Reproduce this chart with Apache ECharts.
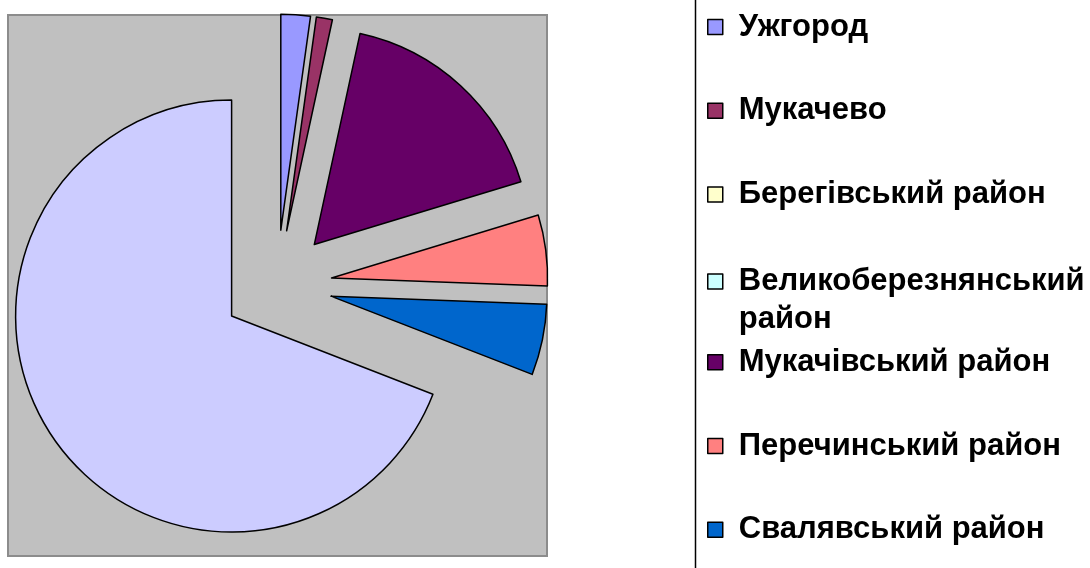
<!DOCTYPE html>
<html>
<head>
<meta charset="utf-8">
<script src="https://cdn.jsdelivr.net/npm/echarts@6/dist/echarts.min.js"></script>
<style>
html, body { margin: 0; padding: 0; background: #fff; }
#chart { width: 1090px; height: 568px; }
</style>
</head>
<body>
<div id="chart"></div>
<script>
// назви міст і районів (порядок як у легенді)
var names = ["Ужгород", "Мукачево", "Берегівський район", "Великоберезнянський район",
  "Мукачівський район", "Перечинський район", "Свалявський район", "Ужгородський район"];
// частка, %
var shares = [2.2, 1.2, 0, 0, 16.9, 5.3, 5.3, 69.1];
var colors = ["#9999FF", "#993366", "#FFFFCC", "#CCFFFF", "#660066", "#FF8080", "#0066CC", "#CCCCFF"];
// у легенді видно лише перші сім
var legendCount = 7;

var chart = echarts.init(document.getElementById("chart"));

var fontSize = 31;
var lineH = 38;
var step = 83.8;

// одна легенда на кожен пункт, бо довга назва переноситься
var legends = [];
for (var i = 0; i < legendCount; i++) {
  var wrap = names[i].length > 20;
  var cy = 27 + i * step;
  legends.push({
    data: [names[i]],
    left: 707,
    top: wrap ? cy - lineH * 1.5 + 3 : cy - lineH / 2,
    padding: 0,
    orient: "vertical",
    selectedMode: false,
    itemWidth: 15,
    itemHeight: 15,
    icon: "rect",
    itemStyle: { borderColor: "#000", borderWidth: 1.5 },
    formatter: function (name) {
      // порожній перший рядок, щоб перший рядок назви стояв біля квадратика
      return name.length > 20 ? "\n" + name.replace(" ", "\n") : name;
    },
    textStyle: {
      fontFamily: "Liberation Sans, Arial, sans-serif",
      fontWeight: "bold",
      fontSize: fontSize,
      lineHeight: lineH,
      color: "#000",
      padding: [0, 0, 0, 11]
    }
  });
}

chart.setOption({
  animation: false,
  backgroundColor: "#fff",
  graphic: [
    {
      type: "rect",
      z: 0,
      shape: { x: 8, y: 15, width: 539, height: 541 },
      style: { fill: "#C0C0C0", stroke: "#8C8C8C", lineWidth: 2 }
    },
    {
      type: "line",
      z: 0,
      shape: { x1: 695.5, y1: 0, x2: 695.5, y2: 568 },
      style: { stroke: "#000", lineWidth: 1.5 }
    }
  ],
  legend: legends,
  series: [
    {
      type: "pie",
      z: 5,
      center: [277, 285],
      radius: 216,
      startAngle: 90,
      clockwise: true,
      selectedMode: "multiple",
      selectedOffset: 55,
      silent: true,
      label: { show: false },
      labelLine: { show: false },
      data: names.map(function (n, i) {
        return {
          name: n,
          value: shares[i],
          selected: true,
          itemStyle: {
            color: colors[i],
            borderColor: "#000",
            borderWidth: shares[i] === 0 ? 0 : 1.5
          }
        };
      })
    }
  ]
});
</script>
</body>
</html>
